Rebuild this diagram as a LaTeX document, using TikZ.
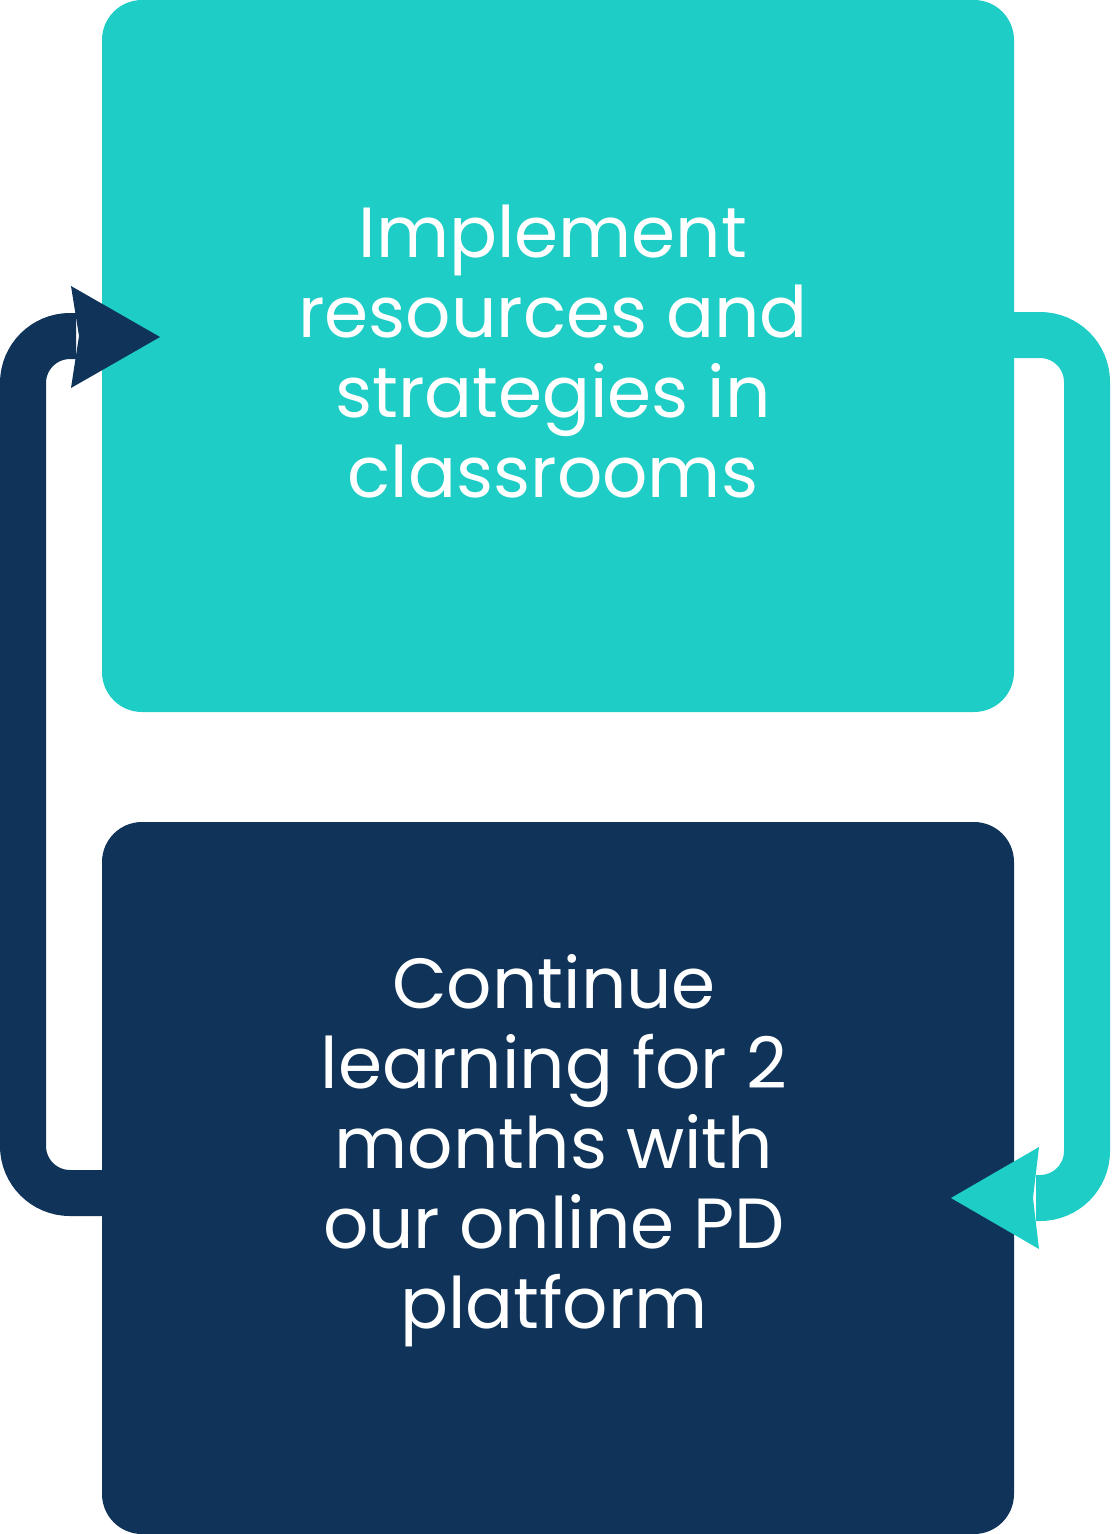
\documentclass[tikz,border=0pt]{standalone}
\usepackage{fontspec}
\setmainfont{Poppins}
\definecolor{tealc}{RGB}{30,205,198}
\definecolor{navyc}{RGB}{15,51,89}
\begin{document}
\begin{tikzpicture}[x=1pt,y=-1pt,
  boxc/.style={rounded corners=40pt, minimum width=912pt, minimum height=712pt, inner sep=0pt, draw=none},
  lbl/.style={text=white, align=center, inner sep=0pt, anchor=base,
    font=\fontsize{71pt}{80pt}\selectfont},
  flow/.style={line width=46pt, rounded corners=47pt},
]
\useasboundingbox (0,0) rectangle (1112,1534);
\node[boxc, fill=tealc] (top) at (558,356) {};
\node[boxc, fill=navyc] (bot) at (558,1178) {};
\node[lbl] (toptxt) at (553,497) {Implement\\resources and\\strategies in\\classrooms};
\node[lbl] (bottxt) at (554,1328) {Continue\\learning for 2\\months with\\our online PD\\platform};
% right teal connector
\coordinate (rstart) at (1000,335);
\coordinate (rend) at (1036,1198);
\draw[flow, draw=tealc] (rstart) -- (1087,335) -- (1087,1198) -- (rend);
\fill[tealc] (rend) ++(-3,0) -- (1039,1147) -- (951,1198) -- (1039,1249) -- cycle;
% left navy connector
\coordinate (lstart) at (110,1193);
\coordinate (lend) at (76,336);
\draw[flow, draw=navyc] (lstart) -- (23,1193) -- (23,336) -- (lend);
\fill[navyc] (lend) ++(3,0) -- (71,286) -- (160,337) -- (71,388) -- cycle;
\end{tikzpicture}
\end{document}
